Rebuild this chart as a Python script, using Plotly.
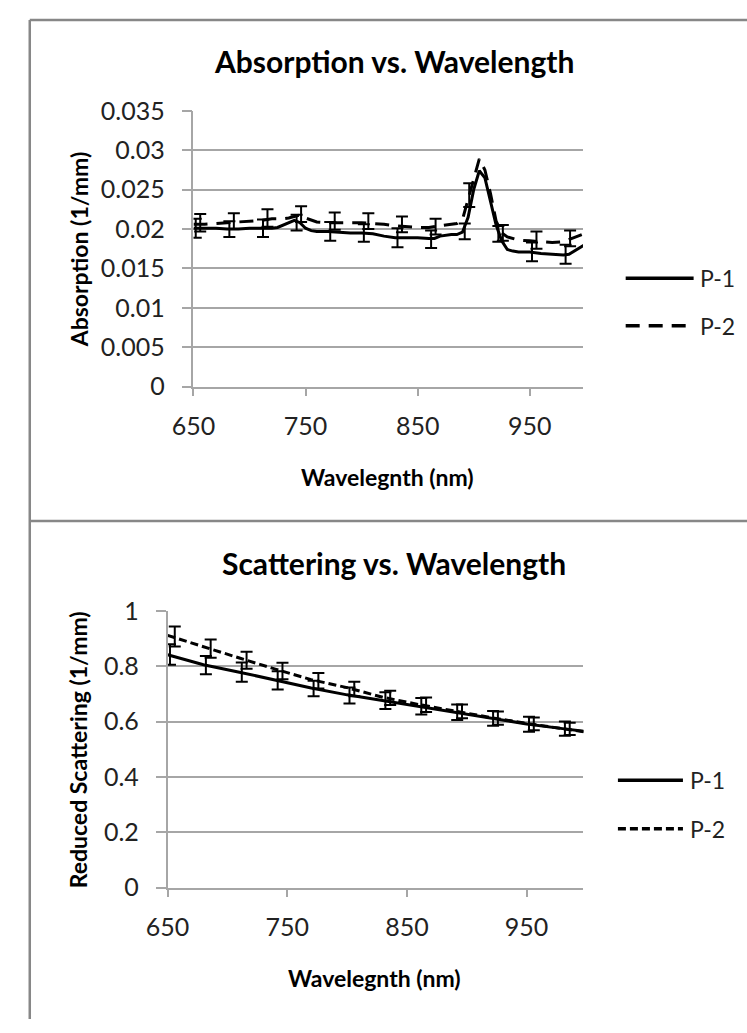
import plotly.graph_objects as go

# ---------------- data ----------------
# Absorption spectra (1/mm)
abs_wl = [650, 660, 670, 680, 690, 700, 710, 720, 725, 730, 735, 740, 745, 750, 755, 760,
          770, 780, 790, 800, 810, 820, 830, 840, 850, 860, 865, 870, 875, 880, 885, 890,
          895, 900, 905, 910, 915, 920, 925, 930, 935, 940, 950, 960, 970, 980, 985, 990,
          995, 1000]
abs_p1 = [0.0201, 0.0201, 0.0201, 0.0200, 0.0200, 0.0201, 0.0201, 0.0201, 0.0202, 0.0205,
          0.0209, 0.0211, 0.0208, 0.0201, 0.0198, 0.0197, 0.0197, 0.0196, 0.0195, 0.0195,
          0.0194, 0.0191, 0.0189, 0.0189, 0.0189, 0.0188, 0.0188, 0.0191, 0.0192, 0.0193,
          0.0193, 0.0196, 0.0215, 0.0250, 0.0274, 0.0265, 0.0235, 0.0205, 0.0185, 0.0174,
          0.0172, 0.0171, 0.0171, 0.0169, 0.0168, 0.0167, 0.0168, 0.0172, 0.0177, 0.0181]
abs_p2 = [0.0206, 0.0206, 0.0207, 0.0208, 0.0209, 0.0210, 0.0211, 0.0213, 0.0213, 0.0213,
          0.0214, 0.0216, 0.0218, 0.0214, 0.0211, 0.0209, 0.0208, 0.0208, 0.0208, 0.0208,
          0.0207, 0.0206, 0.0204, 0.0203, 0.0202, 0.0202, 0.0203, 0.0204, 0.0205, 0.0206,
          0.0207, 0.0212, 0.0238, 0.0265, 0.0289, 0.0275, 0.0245, 0.0210, 0.0195, 0.0190,
          0.0188, 0.0186, 0.0185, 0.0184, 0.0183, 0.0184, 0.0187, 0.0189, 0.0192, 0.0195]

# error-bar sample points (wavelength, value, +/- std)
err_wl_p1 = [652, 682, 712, 742, 772, 802, 832, 862, 892, 922, 952, 982]
err_wl_p2 = [656, 686, 716, 746, 776, 806, 836, 866, 896, 926, 956, 986]

abs_err_p1_y = [0.0201, 0.0200, 0.0201, 0.0208, 0.0197, 0.0195, 0.0189, 0.0187, 0.0197, 0.0194, 0.0171, 0.0168]
abs_err_p1_e = [0.0012, 0.0010, 0.0011, 0.0010, 0.0012, 0.0011, 0.0012, 0.0011, 0.0010, 0.0010, 0.0012, 0.0012]
abs_err_p2_y = [0.0208, 0.0210, 0.0214, 0.0219, 0.0210, 0.0210, 0.0206, 0.0203, 0.0243, 0.0195, 0.0186, 0.0188]
abs_err_p2_e = [0.0011, 0.0010, 0.0011, 0.0010, 0.0011, 0.0010, 0.0010, 0.0010, 0.0015, 0.0010, 0.0011, 0.0010]

# Reduced scattering spectra (1/mm)
sca_wl = [650, 680, 710, 740, 770, 800, 830, 860, 890, 920, 950, 980, 1000]
sca_p1 = [0.842, 0.806, 0.779, 0.750, 0.722, 0.697, 0.676, 0.656, 0.635, 0.613, 0.592, 0.575, 0.564]
sca_p2 = [0.912, 0.870, 0.830, 0.790, 0.752, 0.723, 0.688, 0.662, 0.638, 0.615, 0.594, 0.576, 0.562]

sca_err_p1_y = [0.843, 0.804, 0.779, 0.749, 0.720, 0.695, 0.676, 0.656, 0.634, 0.612, 0.591, 0.575]
sca_err_p1_e = [0.037, 0.033, 0.035, 0.033, 0.028, 0.029, 0.030, 0.030, 0.028, 0.027, 0.027, 0.026]
sca_err_p2_y = [0.908, 0.864, 0.822, 0.783, 0.748, 0.718, 0.686, 0.661, 0.637, 0.613, 0.592, 0.574]
sca_err_p2_e = [0.036, 0.033, 0.031, 0.030, 0.028, 0.026, 0.026, 0.026, 0.025, 0.024, 0.023, 0.022]

series_names = ["P-1", "P-2"]
x_ticks = [650, 750, 850, 950]
abs_ticks = [0, 0.005, 0.01, 0.015, 0.02, 0.025, 0.03, 0.035]
abs_ticktext = ["0", "0.005", "0.01", "0.015", "0.02", "0.025", "0.03", "0.035"]
sca_ticks = [0, 0.2, 0.4, 0.6, 0.8, 1]
sca_ticktext = ["0", "0.2", "0.4", "0.6", "0.8", "1"]

# ---------------- layout helpers ----------------
W, H = 747, 1033
FONT = "Lato"
GRID = "#a6a6a6"
BORDER = "#878787"


def fx(px):
    return px / W


def fy(py):
    return 1 - py / H


DASH_TOP = "14px,9px"
DASH_BOT = "8px,4px"

fig = go.Figure()


def add_panel(xa, ya, wl, p1, p2, e1x, e1y, e1e, e2x, e2y, e2e, dash):
    fig.add_trace(go.Scatter(x=wl, y=p1, mode="lines", name=series_names[0],
                             line=dict(color="black", width=3), xaxis=xa, yaxis=ya,
                             showlegend=False))
    fig.add_trace(go.Scatter(x=wl, y=p2, mode="lines", name=series_names[1],
                             line=dict(color="black", width=3, dash=dash), xaxis=xa, yaxis=ya,
                             showlegend=False))
    for ex, ey, ee in ((e1x, e1y, e1e), (e2x, e2y, e2e)):
        fig.add_trace(go.Scatter(x=ex, y=ey, mode="markers",
                                 marker=dict(size=1, color="rgba(0,0,0,0)"),
                                 error_y=dict(type="data", array=ee, visible=True,
                                              color="black", thickness=2, width=6),
                                 xaxis=xa, yaxis=ya, showlegend=False, hoverinfo="skip"))


add_panel("x", "y", abs_wl, abs_p1, abs_p2,
          err_wl_p1, abs_err_p1_y, abs_err_p1_e, err_wl_p2, abs_err_p2_y, abs_err_p2_e, DASH_TOP)
add_panel("x2", "y2", sca_wl, sca_p1, sca_p2,
          err_wl_p1, sca_err_p1_y, sca_err_p1_e, err_wl_p2, sca_err_p2_y, sca_err_p2_e, DASH_BOT)

tick_font = dict(family=FONT, size=25, color="#222222")

xaxis_common = dict(range=[650, 997.5], tickvals=x_ticks, showgrid=False, zeroline=False,
                    showline=True, linecolor=GRID, linewidth=1.5, ticks="outside",
                    ticklen=8, tickcolor=GRID, tickwidth=1.5, tickfont=tick_font,
                    ticklabelstandoff=9)
yaxis_common = dict(showgrid=True, gridcolor=GRID, gridwidth=1.5, zeroline=False,
                    showline=True, linecolor=GRID, linewidth=1.5, ticks="outside",
                    ticklen=10, tickcolor=GRID, tickwidth=1.5, tickfont=tick_font,
                    ticklabelstandoff=12)

fig.update_layout(
    width=W, height=H,
    margin=dict(l=0, r=0, t=0, b=0),
    paper_bgcolor="white", plot_bgcolor="white",
    showlegend=False,
    xaxis=dict(domain=[fx(176.7), fx(578)], anchor="y", **xaxis_common),
    yaxis=dict(domain=[fy(381.7), fy(97.7)], anchor="x", range=[0, 0.035],
               tickvals=abs_ticks, ticktext=abs_ticktext, **yaxis_common),
    xaxis2=dict(domain=[fx(150), fx(578.5)], anchor="y2", **xaxis_common),
    yaxis2=dict(domain=[fy(897.8), fy(612.8)], anchor="x2", range=[0, 1],
                tickvals=sca_ticks, ticktext=sca_ticktext, **yaxis_common),
)

annotations = []
shapes = []


def text(x, y, s, size, bold=False, angle=0, xanchor="center"):
    annotations.append(dict(x=fx(x), y=fy(y), xref="paper", yref="paper",
                            text=f"<b>{s}</b>" if bold else s, showarrow=False,
                            textangle=angle, xanchor=xanchor, yanchor="middle",
                            font=dict(family=FONT, size=size, color="black")))


# titles
text(383, 46, "Absorption vs. Wavelength", 30, bold=True)
text(383, 563, "Scattering vs. Wavelength", 30, bold=True)
# axis titles
text(377, 475, "Wavelegnth (nm)", 23, bold=True)
text(363, 991, "Wavelegnth (nm)", 23, bold=True)
text(59, 240, "Absorption (1/mm)", 23, bold=True, angle=-90)
text(58, 756, "Reduced Scattering (1/mm)", 23, bold=True, angle=-90)


def legend_entry(x0, x1, y, dash, label):
    shapes.append(dict(type="line", xref="paper", yref="paper",
                       x0=fx(x0), x1=fx(x1), y0=fy(y), y1=fy(y),
                       line=dict(color="black", width=3.5, dash=dash)))
    annotations.append(dict(x=fx(x1 + 5), y=fy(y), xref="paper", yref="paper", text=label,
                            showarrow=False, xanchor="left", yanchor="middle",
                            font=dict(family=FONT, size=23, color="#222222")))


legend_entry(622, 692, 270, "solid", series_names[0])
legend_entry(622, 692, 319, DASH_TOP, series_names[1])
legend_entry(614, 681, 787, "solid", series_names[0])
legend_entry(614, 681, 837, DASH_BOT, series_names[1])

# chart frames
for x0, y0, x1, y1 in [(8, 4, 747, 4), (8, 4, 8, 1033), (8, 520, 747, 520)]:
    shapes.append(dict(type="line", xref="paper", yref="paper",
                       x0=fx(x0), y0=fy(y0), x1=fx(x1), y1=fy(y1),
                       line=dict(color=BORDER, width=2.5)))

fig.update_layout(annotations=annotations, shapes=shapes)

fig.write_html("out.html")
